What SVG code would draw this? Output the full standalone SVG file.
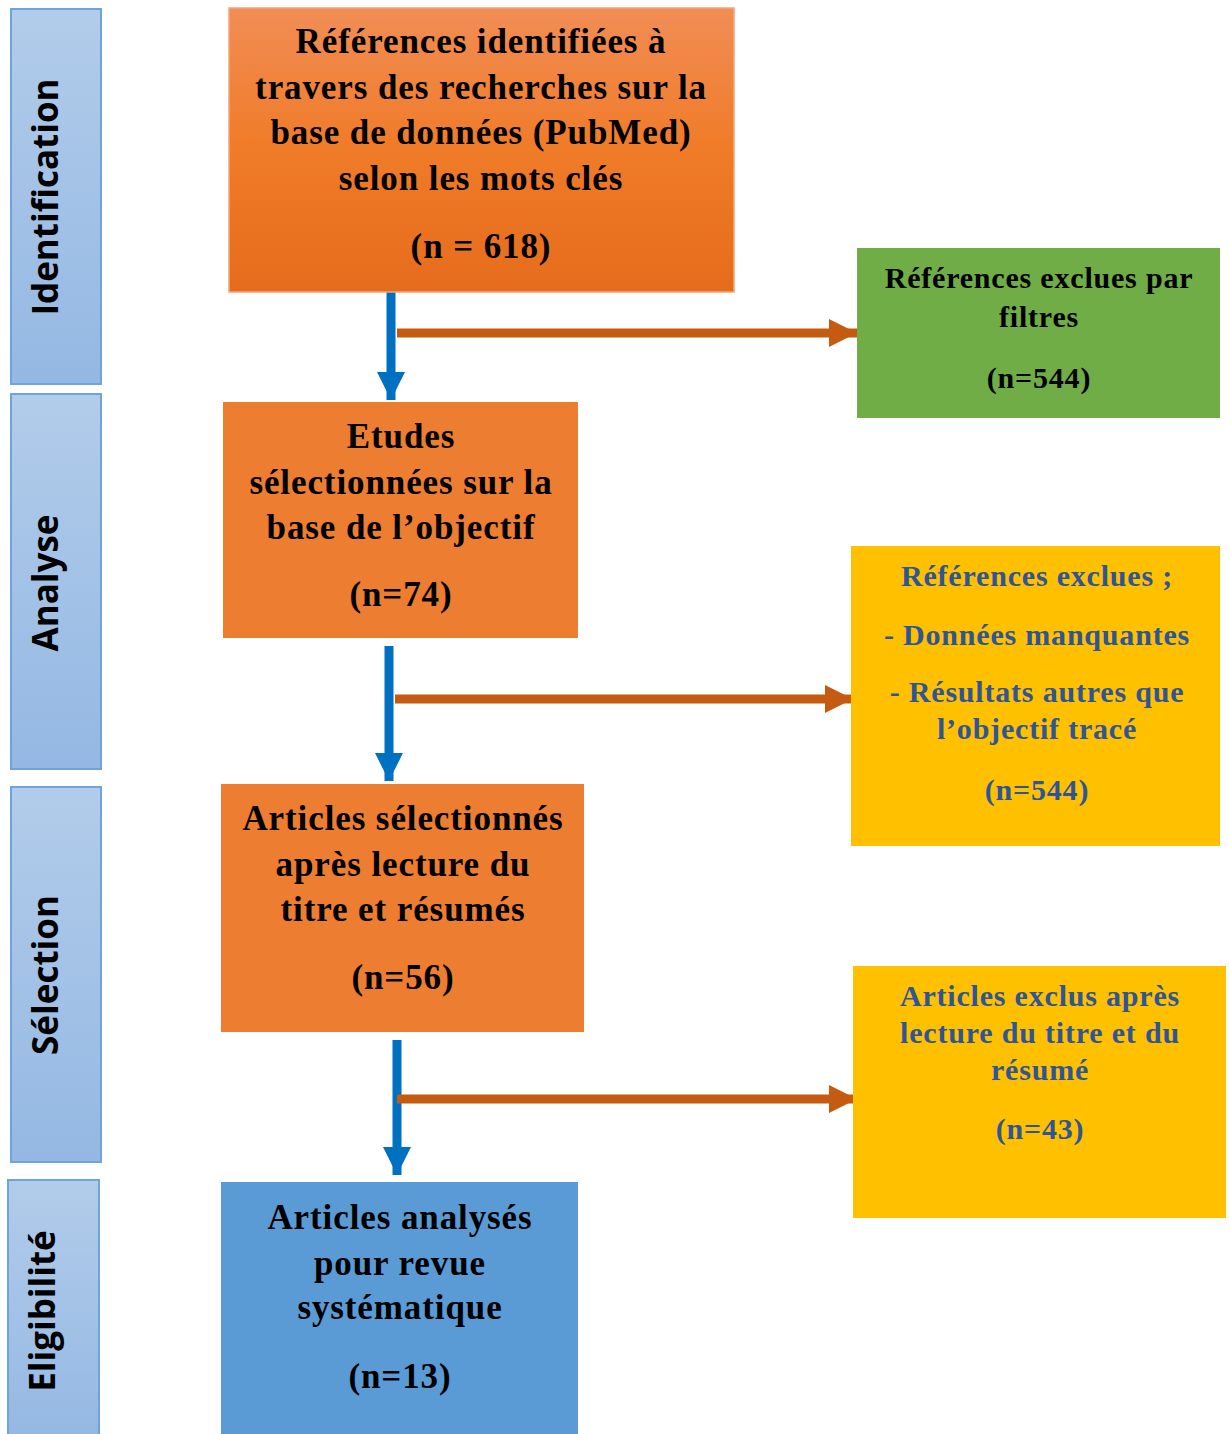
<svg xmlns="http://www.w3.org/2000/svg" width="1230" height="1434" viewBox="0 0 1230 1434">
<defs>
<linearGradient id="gSide" x1="0" y1="0" x2="0" y2="1">
<stop offset="0" stop-color="#B2CCEA"/><stop offset="1" stop-color="#94B8E3"/>
</linearGradient>
<linearGradient id="gTop" x1="0" y1="0" x2="0" y2="1">
<stop offset="0" stop-color="#F18D55"/><stop offset="0.5" stop-color="#F07B28"/><stop offset="1" stop-color="#E56C1C"/>
</linearGradient>
<marker id="hBlue" markerUnits="userSpaceOnUse" markerWidth="30" markerHeight="30" refX="28" refY="14" orient="auto">
<path d="M0,0 L28,14 L0,28 Z" fill="#0070C0"/>
</marker>
<marker id="hOrange" markerUnits="userSpaceOnUse" markerWidth="30" markerHeight="30" refX="28" refY="14" orient="auto">
<path d="M0,0 L28,14 L0,28 Z" fill="#C55A11"/>
</marker>
</defs>
<style>
.side{fill:url(#gSide);stroke:#6FA3DB;stroke-width:2}
.sideT{font-family:"Open Sans","DejaVu Sans",sans-serif;font-weight:bold;font-size:35px;fill:#000;text-anchor:middle}
.t{font-family:"Liberation Serif","Times New Roman",serif;font-weight:bold;text-anchor:middle}
.big{font-size:35px;letter-spacing:0.9px;fill:#000}
.sm{font-size:30px;letter-spacing:0.8px;fill:#000}
.blu{font-size:30px;letter-spacing:0.8px;fill:#2F5597}
.cb{stroke:#0070C0;stroke-width:9;fill:none}
.co{stroke:#C55A11;stroke-width:9;fill:none}
</style>
<rect width="1230" height="1434" fill="#fff"/>

<g id="phase-identification">
<rect class="side" x="11" y="9" width="90" height="375"/>
<text class="sideT" transform="translate(58,197) rotate(-90)">Identification</text>
</g>
<g id="phase-analyse">
<rect class="side" x="11" y="394" width="90" height="375"/>
<text class="sideT" transform="translate(58,583) rotate(-90)">Analyse</text>
</g>
<g id="phase-selection">
<rect class="side" x="11" y="787" width="90" height="375"/>
<text class="sideT" transform="translate(58,975) rotate(-90)">Sélection</text>
</g>
<g id="phase-eligibilite">
<rect class="side" x="8" y="1180" width="91" height="260"/>
<text class="sideT" transform="translate(55,1311) rotate(-90)">Eligibilité</text>
</g>

<g id="connectors">
<line class="cb" x1="391" y1="289" x2="391" y2="400" marker-end="url(#hBlue)"/>
<line class="co" x1="397" y1="333" x2="857" y2="333" marker-end="url(#hOrange)"/>
<line class="cb" x1="389" y1="646" x2="389" y2="781" marker-end="url(#hBlue)"/>
<line class="co" x1="395" y1="699" x2="853" y2="699" marker-end="url(#hOrange)"/>
<line class="cb" x1="397" y1="1040" x2="397" y2="1175" marker-end="url(#hBlue)"/>
<line class="co" x1="397" y1="1099" x2="857" y2="1099" marker-end="url(#hOrange)"/>
</g>

<g id="n-identified">
<rect x="229" y="8" width="505" height="284" fill="url(#gTop)" stroke="#F4A678" stroke-width="1.5"/>
<text class="t big" x="481" y="53">Références identifiées à</text>
<text class="t big" x="481" y="99">travers des recherches sur la</text>
<text class="t big" x="481" y="144">base de données (PubMed)</text>
<text class="t big" x="481" y="190">selon les mots clés</text>
<text class="t big" x="481" y="258">(n = 618)</text>
</g>

<g id="n-etudes">
<rect x="223" y="402" width="355" height="236" fill="#ED7D31"/>
<text class="t big" x="401" y="448">Etudes</text>
<text class="t big" x="401" y="494">sélectionnées sur la</text>
<text class="t big" x="401" y="539">base de l’objectif</text>
<text class="t big" x="401" y="606">(n=74)</text>
</g>

<g id="n-articles-selectionnes">
<rect x="221" y="784" width="363" height="248" fill="#ED7D31"/>
<text class="t big" x="403" y="830">Articles sélectionnés</text>
<text class="t big" x="403" y="876">après lecture du</text>
<text class="t big" x="403" y="921">titre et résumés</text>
<text class="t big" x="403" y="989">(n=56)</text>
</g>

<g id="n-articles-analyses">
<rect x="221" y="1182" width="357" height="260" fill="#5B9BD5"/>
<text class="t big" x="400" y="1229">Articles analysés</text>
<text class="t big" x="400" y="1275">pour revue</text>
<text class="t big" x="400" y="1319">systématique</text>
<text class="t big" x="400" y="1388">(n=13)</text>
</g>

<g id="n-exclues-filtres">
<rect x="857" y="248" width="363" height="170" fill="#70AD47"/>
<text class="t sm" x="1039" y="288">Références exclues par</text>
<text class="t sm" x="1039" y="327">filtres</text>
<text class="t sm" x="1039" y="388">(n=544)</text>
</g>

<g id="n-exclues-objectif">
<rect x="851" y="546" width="369" height="300" fill="#FFC000"/>
<text class="t blu" x="1037" y="586">Références exclues ;</text>
<text class="t blu" x="1037" y="645">- Données manquantes</text>
<text class="t blu" x="1037" y="702">- Résultats autres que</text>
<text class="t blu" x="1037" y="739">l’objectif tracé</text>
<text class="t blu" x="1037" y="800">(n=544)</text>
</g>

<g id="n-exclus-titre">
<rect x="853" y="966" width="373" height="252" fill="#FFC000"/>
<text class="t blu" x="1040" y="1006">Articles exclus après</text>
<text class="t blu" x="1040" y="1043">lecture du titre et du</text>
<text class="t blu" x="1040" y="1080">résumé</text>
<text class="t blu" x="1040" y="1139">(n=43)</text>
</g>
</svg>
